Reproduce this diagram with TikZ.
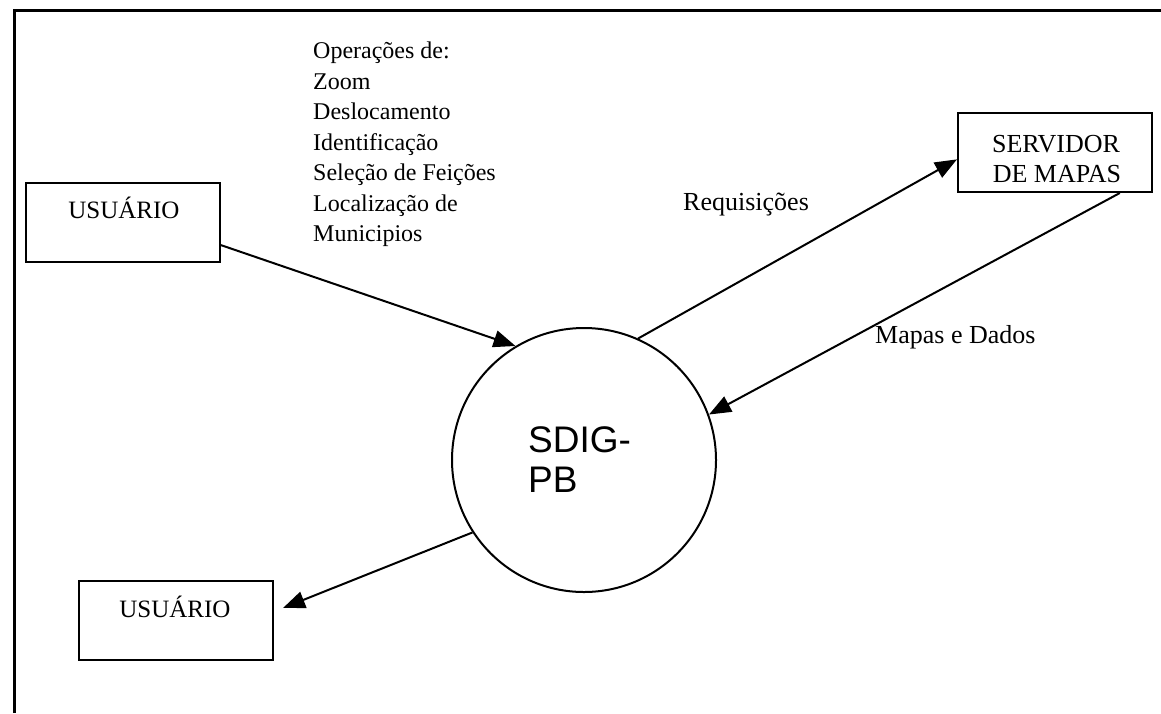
\documentclass[tikz,border=0pt]{standalone}
\usepackage{fontspec}
\setmainfont{Liberation Serif}
\newfontfamily\diagsans{Liberation Sans}
\usetikzlibrary{arrows.meta,calc}
\tikzset{
  frameline/.style={line width=3pt,black},
  entitybox/.style={draw,line width=2pt,minimum width=194pt,minimum height=79pt,inner sep=0pt},
  procbubble/.style={draw,circle,line width=2pt,minimum size=264pt,inner sep=0pt},
  flow/.style={line width=2pt,-{Triangle[length=22pt,width=17pt]}},
  boxtext/.style={font=\fontsize{25}{30}\selectfont,inner sep=0pt,anchor=base},
  flowlabel/.style={font=\fontsize{26}{30}\selectfont,inner sep=0pt,anchor=base west},
}
\begin{document}
\begin{tikzpicture}[x=1pt,y=-1pt]
\useasboundingbox (0,0) rectangle (1161,713);
% frame
\draw[frameline] (14,713) -- (14,10) -- (1161,10);
% entities
\node[entitybox] (u1) at (123,222.5) {};
\node[boxtext] (u1t) at (124,218) {USUÁRIO};
\node[entitybox] (srv) at (1055,152.5) {};
\node[boxtext,font=\fontsize{26}{30}\selectfont] (srvt1) at (1056,152) {SERVIDOR};
\node[boxtext,font=\fontsize{26}{30}\selectfont] (srvt2) at (1057,182) {DE MAPAS};
\node[entitybox] (u2) at (175.5,620.5) {};
\node[boxtext] (u2t) at (175,617) {USUÁRIO};
% process
\node[procbubble] (sdig) at (584,460) {};
\node[inner sep=0pt,anchor=base west,font=\diagsans\fontsize{37}{40}\selectfont] (sdigt1) at (528,452) {SDIG-};
\node[inner sep=0pt,anchor=base west,font=\diagsans\fontsize{37}{40}\selectfont] (sdigt2) at (528,492) {PB};
% labels
\node[inner sep=0pt,anchor=north west,align=left,font=\fontsize{24}{30.5}\selectfont] (ops) at (313,42)
  {Operações de:\\Zoom\\Deslocamento\\Identificação\\Seleção de Feições\\Localização de\\Municipios};
\node[flowlabel] (req) at (683,210) {Requisições};
\node[flowlabel] (map) at (875,343) {Mapas e Dados};
% flows
\coordinate (u2in) at (283,608);
\draw[flow] (u1.-13) -- (sdig.121);
\draw[flow] (sdig.66) -- (srv.184);
\draw[flow] (srv.-32.5) -- (sdig.20);
\draw[flow] (sdig.213) -- (u2in);
\end{tikzpicture}
\end{document}
